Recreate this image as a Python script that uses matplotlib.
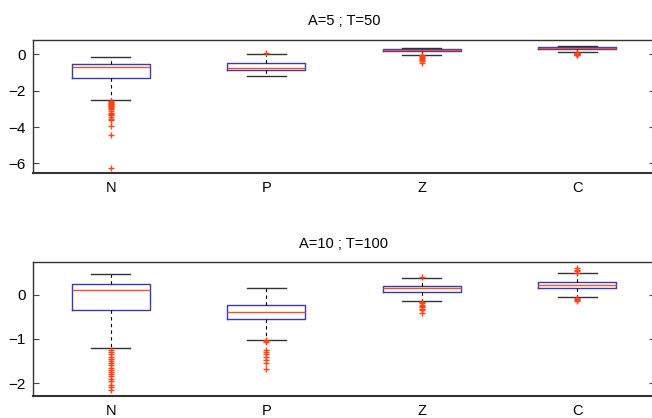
import matplotlib
matplotlib.use("Agg")
import matplotlib.pyplot as plt

plt.rcParams['font.family'] = ['Liberation Sans', 'DejaVu Sans']

categories = ["N", "P", "Z", "C"]

# Panel 1: A=5 ; T=50
title1 = "A=5 ; T=50"
whislo1 = [-2.5, -1.2, -0.02, 0.14]
q1_1 = [-1.29, -0.83, 0.17, 0.29]
med1 = [-0.68, -0.74, 0.24, 0.38]
q3_1 = [-0.5, -0.48, 0.29, 0.42]
whishi1 = [-0.13, 0.05, 0.35, 0.47]
fliers1 = [
    [-2.55, -2.6, -2.65, -2.7, -2.75, -2.8, -2.85, -2.9, -2.95, -3.0, -3.1,
     -3.2, -3.3, -3.35, -3.45, -3.55, -3.6, -3.95, -4.45, -6.25],
    [0.1],
    [-0.05, -0.1, -0.15, -0.2, -0.25, -0.3, -0.35, -0.45],
    [0.1, 0.08, 0.05, 0.02, 0.0, -0.03, -0.05],
]
yticks1 = [0, -2, -4, -6]
ylim1 = (-6.53, 0.79)

# Panel 2: A=10 ; T=100
title2 = "A=10 ; T=100"
whislo2 = [-1.21, -1.02, -0.14, -0.05]
q1_2 = [-0.34, -0.54, 0.05, 0.14]
med2 = [0.11, -0.40, 0.14, 0.21]
q3_2 = [0.24, -0.23, 0.19, 0.28]
whishi2 = [0.46, 0.16, 0.37, 0.48]
fliers2 = [
    [-1.25, -1.3, -1.35, -1.4, -1.45, -1.5, -1.55, -1.6, -1.65, -1.7, -1.75,
     -1.8, -1.85, -1.9, -1.95, -2.05, -2.1, -2.15],
    [-1.03, -1.05, -1.08, -1.25, -1.3, -1.35, -1.42, -1.48, -1.55, -1.68],
    [0.4, -0.17, -0.2, -0.23, -0.26, -0.29, -0.32, -0.35, -0.42],
    [0.5, 0.53, 0.56, 0.6, -0.08, -0.1, -0.13, -0.15],
]
yticks2 = [0, -1, -2]
ylim2 = (-2.285, 0.73)

BOX = '#3b3ba8'
MED = '#f0502a'
FLI = '#ff4518'

fig = plt.figure(figsize=(6.52, 4.18), dpi=100)
ax1 = fig.add_axes([0.0506, 0.586, 0.954, 0.318])
ax2 = fig.add_axes([0.0506, 0.0534, 0.954, 0.319])


def draw(ax, title, lo, q1, med, q3, hi, fl, yt, yl, tpad):
    stats = []
    for i, lab in enumerate(categories):
        stats.append(dict(label=lab, whislo=lo[i], q1=q1[i], med=med[i],
                          q3=q3[i], whishi=hi[i], fliers=fl[i]))
    ax.bxp(stats, positions=[1, 2, 3, 4], widths=0.5, showfliers=True,
           boxprops=dict(color=BOX, linewidth=1.0),
           medianprops=dict(color=MED, linewidth=1.0),
           whiskerprops=dict(color='black', linewidth=0.8, linestyle=(0, (3, 3))),
           capprops=dict(color='#333333', linewidth=1.0),
           flierprops=dict(marker='+', markeredgecolor=FLI, markersize=4,
                           markeredgewidth=1.0, linestyle='none'))
    ax.set_xlim(0.5, 4.5)
    ax.set_ylim(*yl)
    ax.set_yticks(yt)
    ax.set_yticklabels([("\u2212" + str(abs(v))) if v < 0 else str(v) for v in yt])
    ax.set_title(title, fontsize=10.5, pad=tpad)
    ax.tick_params(axis='y', direction='in', right=True, length=4, labelsize=11,
                   color='#444444', pad=5)
    ax.tick_params(axis='x', length=0, labelsize=10.5, pad=6)
    for s in ax.spines.values():
        s.set_color('#333333')
        s.set_linewidth(1.0)
    ax.spines['bottom'].set_linewidth(1.5)


draw(ax1, title1, whislo1, q1_1, med1, q3_1, whishi1, fliers1, yticks1, ylim1, 11)
draw(ax2, title2, whislo2, q1_2, med2, q3_2, whishi2, fliers2, yticks2, ylim2, 10)

fig.savefig("out.png", dpi=100)
